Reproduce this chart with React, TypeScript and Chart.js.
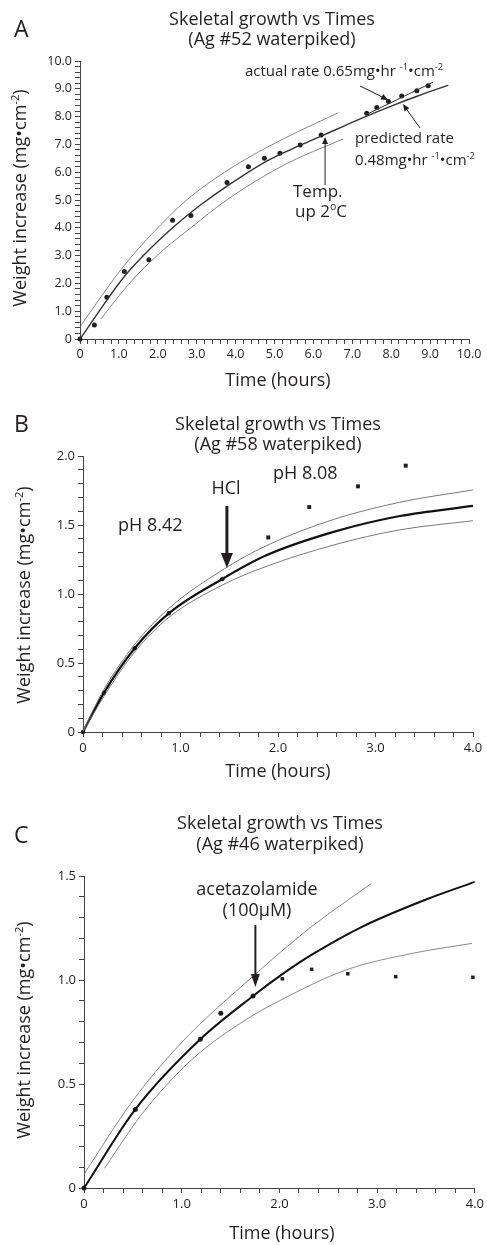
import React, { useEffect, useRef } from 'react';
import { Chart, registerables } from 'chart.js';

Chart.register(...registerables);

const FONT = '"Open Sans", "Noto Sans", sans-serif';
const INK = '#231f20';
const AXIS = '#444444';
const BAND = '#6a6a6a';

// ---------------- Panel A : Ag #52 waterpiked ----------------
const aObsTime = [0, 0.37, 0.69, 1.14, 1.77, 2.38, 2.85, 3.78, 4.33, 4.74, 5.14, 5.66, 6.2, 7.37, 7.63, 7.93, 8.27, 8.66, 8.95];
const aObsWeight = [0, 0.5, 1.5, 2.43, 2.85, 4.27, 4.44, 5.63, 6.2, 6.5, 6.68, 6.98, 7.34, 8.12, 8.33, 8.54, 8.74, 8.93, 9.11];
const aFitTime = [0, 0.37, 0.69, 1.14, 1.77, 2.38, 3.08, 3.78, 4.8, 5.68, 6.2, 6.8, 7.37, 8.0, 8.7, 9.47];
const aFitWeight = [0, 0.75, 1.4, 2.25, 3.2, 4.0, 4.8, 5.5, 6.4, 6.98, 7.3, 7.67, 8.02, 8.38, 8.75, 9.13];
const aUpperTime = [0, 0.5, 1.0, 1.5, 2.0, 2.74, 3.94, 5.23, 6.64];
const aUpperWeight = [0.44, 1.44, 2.4, 3.25, 4.0, 5.0, 6.2, 7.2, 8.14];
const aLowerTime = [0.54, 1.0, 1.5, 2.14, 2.85, 3.77, 5.23, 6.77];
const aLowerWeight = [0.72, 1.55, 2.35, 3.2, 4.0, 5.0, 6.25, 7.2];
const aActualTime = [7.4, 9.08];
const aActualWeight = [8.1, 9.24];

// ---------------- Panel B : Ag #58 waterpiked ----------------
const bPreTime = [0, 0.216, 0.53, 0.88, 1.43];
const bPreWeight = [0, 0.285, 0.607, 0.86, 1.109];
const bPostTime = [1.9, 2.32, 2.82, 3.31];
const bPostWeight = [1.41, 1.63, 1.78, 1.93];
const bFitTime = [0, 0.216, 0.53, 0.88, 1.43, 1.88, 2.57, 3.25, 4.0];
const bFitWeight = [0, 0.285, 0.607, 0.86, 1.109, 1.28, 1.45, 1.565, 1.638];
const bUpperWeight = [0.01, 0.31, 0.635, 0.895, 1.174, 1.35, 1.54, 1.665, 1.754];
const bLowerWeight = [0, 0.26, 0.58, 0.83, 1.065, 1.2, 1.355, 1.465, 1.531];

// ---------------- Panel C : Ag #46 waterpiked ----------------
const cPreTime = [0, 0.525, 1.19, 1.4, 1.73];
const cPreWeight = [0, 0.378, 0.715, 0.84, 0.923];
const cPostTime = [2.03, 2.33, 2.7, 3.19, 3.98];
const cPostWeight = [1.006, 1.051, 1.03, 1.016, 1.013];
const cFitTime = [0, 0.525, 1.19, 1.73, 2.03, 2.34, 2.85, 3.5, 4.0];
const cFitWeight = [0, 0.378, 0.715, 0.923, 1.028, 1.124, 1.257, 1.387, 1.472];
const cUpperTime = [0, 0.5, 1.0, 1.73, 2.3, 2.94];
const cUpperWeight = [0.067, 0.42, 0.7, 1.018, 1.246, 1.464];
const cLowerTime = [0.21, 0.6, 1.11, 1.66, 2.0, 2.68, 3.36, 3.97];
const cLowerWeight = [0.095, 0.36, 0.62, 0.81, 0.9, 1.048, 1.128, 1.176];

// ---------------- text ----------------
const TITLE_LINE = 'Skeletal growth vs Times';
const X_TITLE = 'Time (hours)';

type Seg = { t: string; sup?: boolean };
type TextItem = { segs: Seg[]; x: number; y: number; size: number; align?: 'left' | 'center' };
type ArrowItem = { from: [number, number]; to: [number, number]; width: number; head: number; headW: number };

const pts = (xs: number[], ys: number[]) => xs.map((x, i) => ({ x, y: ys[i] }));

function drawRich(ctx: CanvasRenderingContext2D, item: TextItem) {
  const { segs, x, y, size, align } = item;
  const supSize = size * 0.62;
  let total = 0;
  const widths = segs.map((s) => {
    ctx.font = `${s.sup ? supSize : size}px ${FONT}`;
    const w = ctx.measureText(s.t).width;
    total += w;
    return w;
  });
  let cx = align === 'center' ? x - total / 2 : x;
  ctx.textAlign = 'left';
  ctx.textBaseline = 'alphabetic';
  segs.forEach((s, i) => {
    ctx.font = `${s.sup ? supSize : size}px ${FONT}`;
    ctx.fillText(s.t, cx, s.sup ? y - size * 0.4 : y);
    cx += widths[i];
  });
}

type Panel = {
  top: number;
  height: number;
  area: { left: number; right: number; top: number; bottom: number };
  xMax: number; yMax: number;
  xMinor: number; yMinor: number; xMajor: number; yMajor: number;
  tickSize: number;
  datasets: any[];
  texts: TextItem[];
  yTitle: { x: number; y: number; size: number };
  xTitle: { x: number; y: number; size: number };
  arrows: ArrowItem[];
};

const W = 487;

function majorLabel(v: number, major: number) {
  const n = Number(v);
  const r = Math.round(n / major);
  if (Math.abs(n - r * major) > 1e-6) return '';
  return Math.abs(n) < 1e-9 ? '0' : n.toFixed(1);
}

const bandLine = (data: any[], width = 0.8) => ({
  data, showLine: true, pointRadius: 0, borderColor: BAND, borderWidth: width,
  cubicInterpolationMode: 'monotone', fill: false,
});
const fitLine = (data: any[], width: number, color: string) => ({
  data, showLine: true, pointRadius: 0, borderColor: color, borderWidth: width,
  cubicInterpolationMode: 'monotone', fill: false,
});
const dots = (data: any[], style: string, r: number) => ({
  data, showLine: false, pointStyle: style, pointRadius: r, pointBackgroundColor: INK,
  pointBorderColor: INK, pointBorderWidth: 0, clip: false,
});

const titleTexts = (sub: string, cx: number, b1: number, b2: number, letter: string, lb: number): TextItem[] => [
  { segs: [{ t: letter }], x: 14, y: lb, size: 23 },
  { segs: [{ t: TITLE_LINE }], x: cx, y: b1, size: 18, align: 'center' },
  { segs: [{ t: sub }], x: cx, y: b2, size: 18, align: 'center' },
];

const panels: Panel[] = [
  {
    top: 0, height: 395,
    area: { left: 80, right: 469, top: 61, bottom: 339 },
    xMax: 10, yMax: 10, xMinor: 0.2, yMinor: 0.2, xMajor: 1, yMajor: 1, tickSize: 12.5,
    datasets: [
      bandLine(pts(aUpperTime, aUpperWeight)),
      bandLine(pts(aLowerTime, aLowerWeight)),
      fitLine(pts(aFitTime, aFitWeight), 1.4, '#333333'),
      fitLine(pts(aActualTime, aActualWeight), 1, '#333333'),
      dots(pts(aObsTime, aObsWeight), 'circle', 2.5),
    ],
    texts: [
      ...titleTexts('(Ag #52 waterpiked)', 272, 25, 45, 'A', 37),
      { segs: [{ t: 'actual rate 0.65mg•hr ' }, { t: '-1', sup: true }, { t: '•cm' }, { t: '-2', sup: true }], x: 245, y: 76, size: 15 },
      { segs: [{ t: 'predicted rate' }], x: 355, y: 143, size: 15 },
      { segs: [{ t: '0.48mg•hr ' }, { t: '-1', sup: true }, { t: '•cm' }, { t: '-2', sup: true }], x: 355, y: 165, size: 15 },
      { segs: [{ t: 'Temp.' }], x: 293, y: 197, size: 17 },
      { segs: [{ t: 'up 2' }, { t: 'o', sup: true }, { t: 'C' }], x: 295, y: 217, size: 17 },
    ],
    yTitle: { x: 26, y: 198, size: 18 },
    xTitle: { x: 278, y: 386, size: 18 },
    arrows: [
      { from: [7.2, 9.1], to: [7.92, 8.6], width: 1, head: 7, headW: 3 },
      { from: [8.74, 7.59], to: [8.3, 8.45], width: 1, head: 7, headW: 3 },
      { from: [6.3, 5.54], to: [6.3, 7.27], width: 1, head: 7, headW: 3 },
    ],
  },
  {
    top: 395, height: 395,
    area: { left: 83, right: 473, top: 61, bottom: 337 },
    xMax: 4, yMax: 2, xMinor: 0.2, yMinor: 0.1, xMajor: 1, yMajor: 0.5, tickSize: 13,
    datasets: [
      bandLine(pts(bFitTime, bUpperWeight), 0.9),
      bandLine(pts(bFitTime, bLowerWeight), 0.9),
      fitLine(pts(bFitTime, bFitWeight), 2.2, '#111111'),
      dots(pts(bPreTime, bPreWeight), 'circle', 2.2),
      dots(pts(bPostTime, bPostWeight), 'rect', 2.8),
    ],
    texts: [
      ...titleTexts('(Ag #58 waterpiked)', 278, 35, 55, 'B', 37),
      { segs: [{ t: 'pH 8.42' }], x: 118, y: 136, size: 18 },
      { segs: [{ t: 'HCl' }], x: 226, y: 99, size: 18, align: 'center' },
      { segs: [{ t: 'pH 8.08' }], x: 273, y: 84, size: 18 },
    ],
    yTitle: { x: 30, y: 200, size: 18 },
    xTitle: { x: 278, y: 382, size: 18 },
    arrows: [{ from: [1.476, 1.638], to: [1.476, 1.188], width: 3, head: 15, headW: 6 }],
  },
  {
    top: 790, height: 455,
    area: { left: 84, right: 476, top: 86, bottom: 398 },
    xMax: 4, yMax: 1.5, xMinor: 0.2, yMinor: 0.1, xMajor: 1, yMajor: 0.5, tickSize: 13,
    datasets: [
      bandLine(pts(cUpperTime, cUpperWeight), 0.8),
      bandLine(pts(cLowerTime, cLowerWeight), 0.8),
      fitLine(pts(cFitTime, cFitWeight), 2, '#111111'),
      dots(pts(cPreTime, cPreWeight), 'circle', 2.5),
      dots(pts(cPostTime, cPostWeight), 'rect', 2.5),
    ],
    texts: [
      ...titleTexts('(Ag #46 waterpiked)', 280, 39, 60, 'C', 53),
      { segs: [{ t: 'acetazolamide' }], x: 257, y: 105, size: 18, align: 'center' },
      { segs: [{ t: '(100μM)' }], x: 257, y: 126, size: 18, align: 'center' },
    ],
    yTitle: { x: 30, y: 240, size: 18 },
    xTitle: { x: 282, y: 449, size: 18 },
    arrows: [{ from: [1.754, 1.264], to: [1.754, 0.966], width: 2, head: 13, headW: 4.5 }],
  },
];

function makeAnnotPlugin(p: Panel) {
  return {
    id: 'annot',
    afterDraw(chart: any) {
      const ctx: CanvasRenderingContext2D = chart.ctx;
      const xs = chart.scales.x;
      const ys = chart.scales.y;
      ctx.save();
      ctx.fillStyle = INK;
      ctx.strokeStyle = INK;
      p.texts.forEach((t) => drawRich(ctx, t));
      // x axis title
      drawRich(ctx, { segs: [{ t: X_TITLE }], x: p.xTitle.x, y: p.xTitle.y, size: p.xTitle.size, align: 'center' });
      // y axis title
      ctx.save();
      ctx.translate(p.yTitle.x, p.yTitle.y);
      ctx.rotate(-Math.PI / 2);
      drawRich(ctx, {
        segs: [{ t: 'Weight increase (mg•cm' }, { t: '-2', sup: true }, { t: ')' }],
        x: 0, y: 0, size: p.yTitle.size, align: 'center',
      });
      ctx.restore();
      // arrows
      p.arrows.forEach((a) => {
        const x1 = xs.getPixelForValue(a.from[0]);
        const y1 = ys.getPixelForValue(a.from[1]);
        const x2 = xs.getPixelForValue(a.to[0]);
        const y2 = ys.getPixelForValue(a.to[1]);
        const ang = Math.atan2(y2 - y1, x2 - x1);
        const bx = x2 - Math.cos(ang) * a.head;
        const by = y2 - Math.sin(ang) * a.head;
        ctx.lineWidth = a.width;
        ctx.beginPath();
        ctx.moveTo(x1, y1);
        ctx.lineTo(bx + Math.cos(ang) * 1, by + Math.sin(ang) * 1);
        ctx.stroke();
        ctx.beginPath();
        ctx.moveTo(x2, y2);
        ctx.lineTo(bx + Math.sin(ang) * a.headW, by - Math.cos(ang) * a.headW);
        ctx.lineTo(bx - Math.sin(ang) * a.headW, by + Math.cos(ang) * a.headW);
        ctx.closePath();
        ctx.fill();
      });
      ctx.restore();
    },
  };
}

function makeConfig(p: Panel): any {
  const tickFont = { family: FONT, size: p.tickSize };
  const grid = { display: true, drawOnChartArea: false, drawTicks: true, tickLength: 5, tickColor: AXIS, tickWidth: 1 };
  return {
    type: 'scatter',
    data: { datasets: p.datasets },
    options: {
      animation: false,
      responsive: false,
      devicePixelRatio: 1,
      events: [],
      layout: { padding: { top: p.area.top, right: W - p.area.right, bottom: 0, left: 0 } },
      plugins: { legend: { display: false }, tooltip: { enabled: false }, title: { display: false } },
      scales: {
        x: {
          type: 'linear', position: 'bottom', min: 0, max: p.xMax,
          afterFit: (s: any) => { s.height = p.height - p.area.bottom; },
          border: { display: true, color: AXIS, width: 1 },
          grid,
          ticks: {
            stepSize: p.xMinor, autoSkip: false, maxRotation: 0, minRotation: 0, padding: 3,
            color: INK, font: tickFont, callback: (v: number) => majorLabel(v, p.xMajor),
          },
        },
        y: {
          type: 'linear', position: 'left', min: 0, max: p.yMax,
          afterFit: (s: any) => { s.width = p.area.left; },
          border: { display: true, color: AXIS, width: 1 },
          grid,
          ticks: {
            stepSize: p.yMinor, autoSkip: false, padding: 3,
            color: INK, font: tickFont, callback: (v: number) => majorLabel(v, p.yMajor),
          },
        },
      },
    },
    plugins: [makeAnnotPlugin(p)],
  };
}

function PanelChart({ p }: { p: Panel }) {
  const ref = useRef<HTMLCanvasElement | null>(null);
  useEffect(() => {
    if (!ref.current) return;
    const chart = new Chart(ref.current, makeConfig(p));
    return () => chart.destroy();
  }, [p]);
  return (
    <canvas
      ref={ref}
      width={W}
      height={p.height}
      style={{ position: 'absolute', left: 0, top: p.top, width: W, height: p.height, display: 'block' }}
    />
  );
}

export default function App() {
  return (
    <div style={{ position: 'absolute', left: 0, top: 0, width: W, height: 1245, background: '#ffffff', overflow: 'hidden' }}>
      {panels.map((p, i) => (
        <PanelChart key={i} p={p} />
      ))}
    </div>
  );
}
